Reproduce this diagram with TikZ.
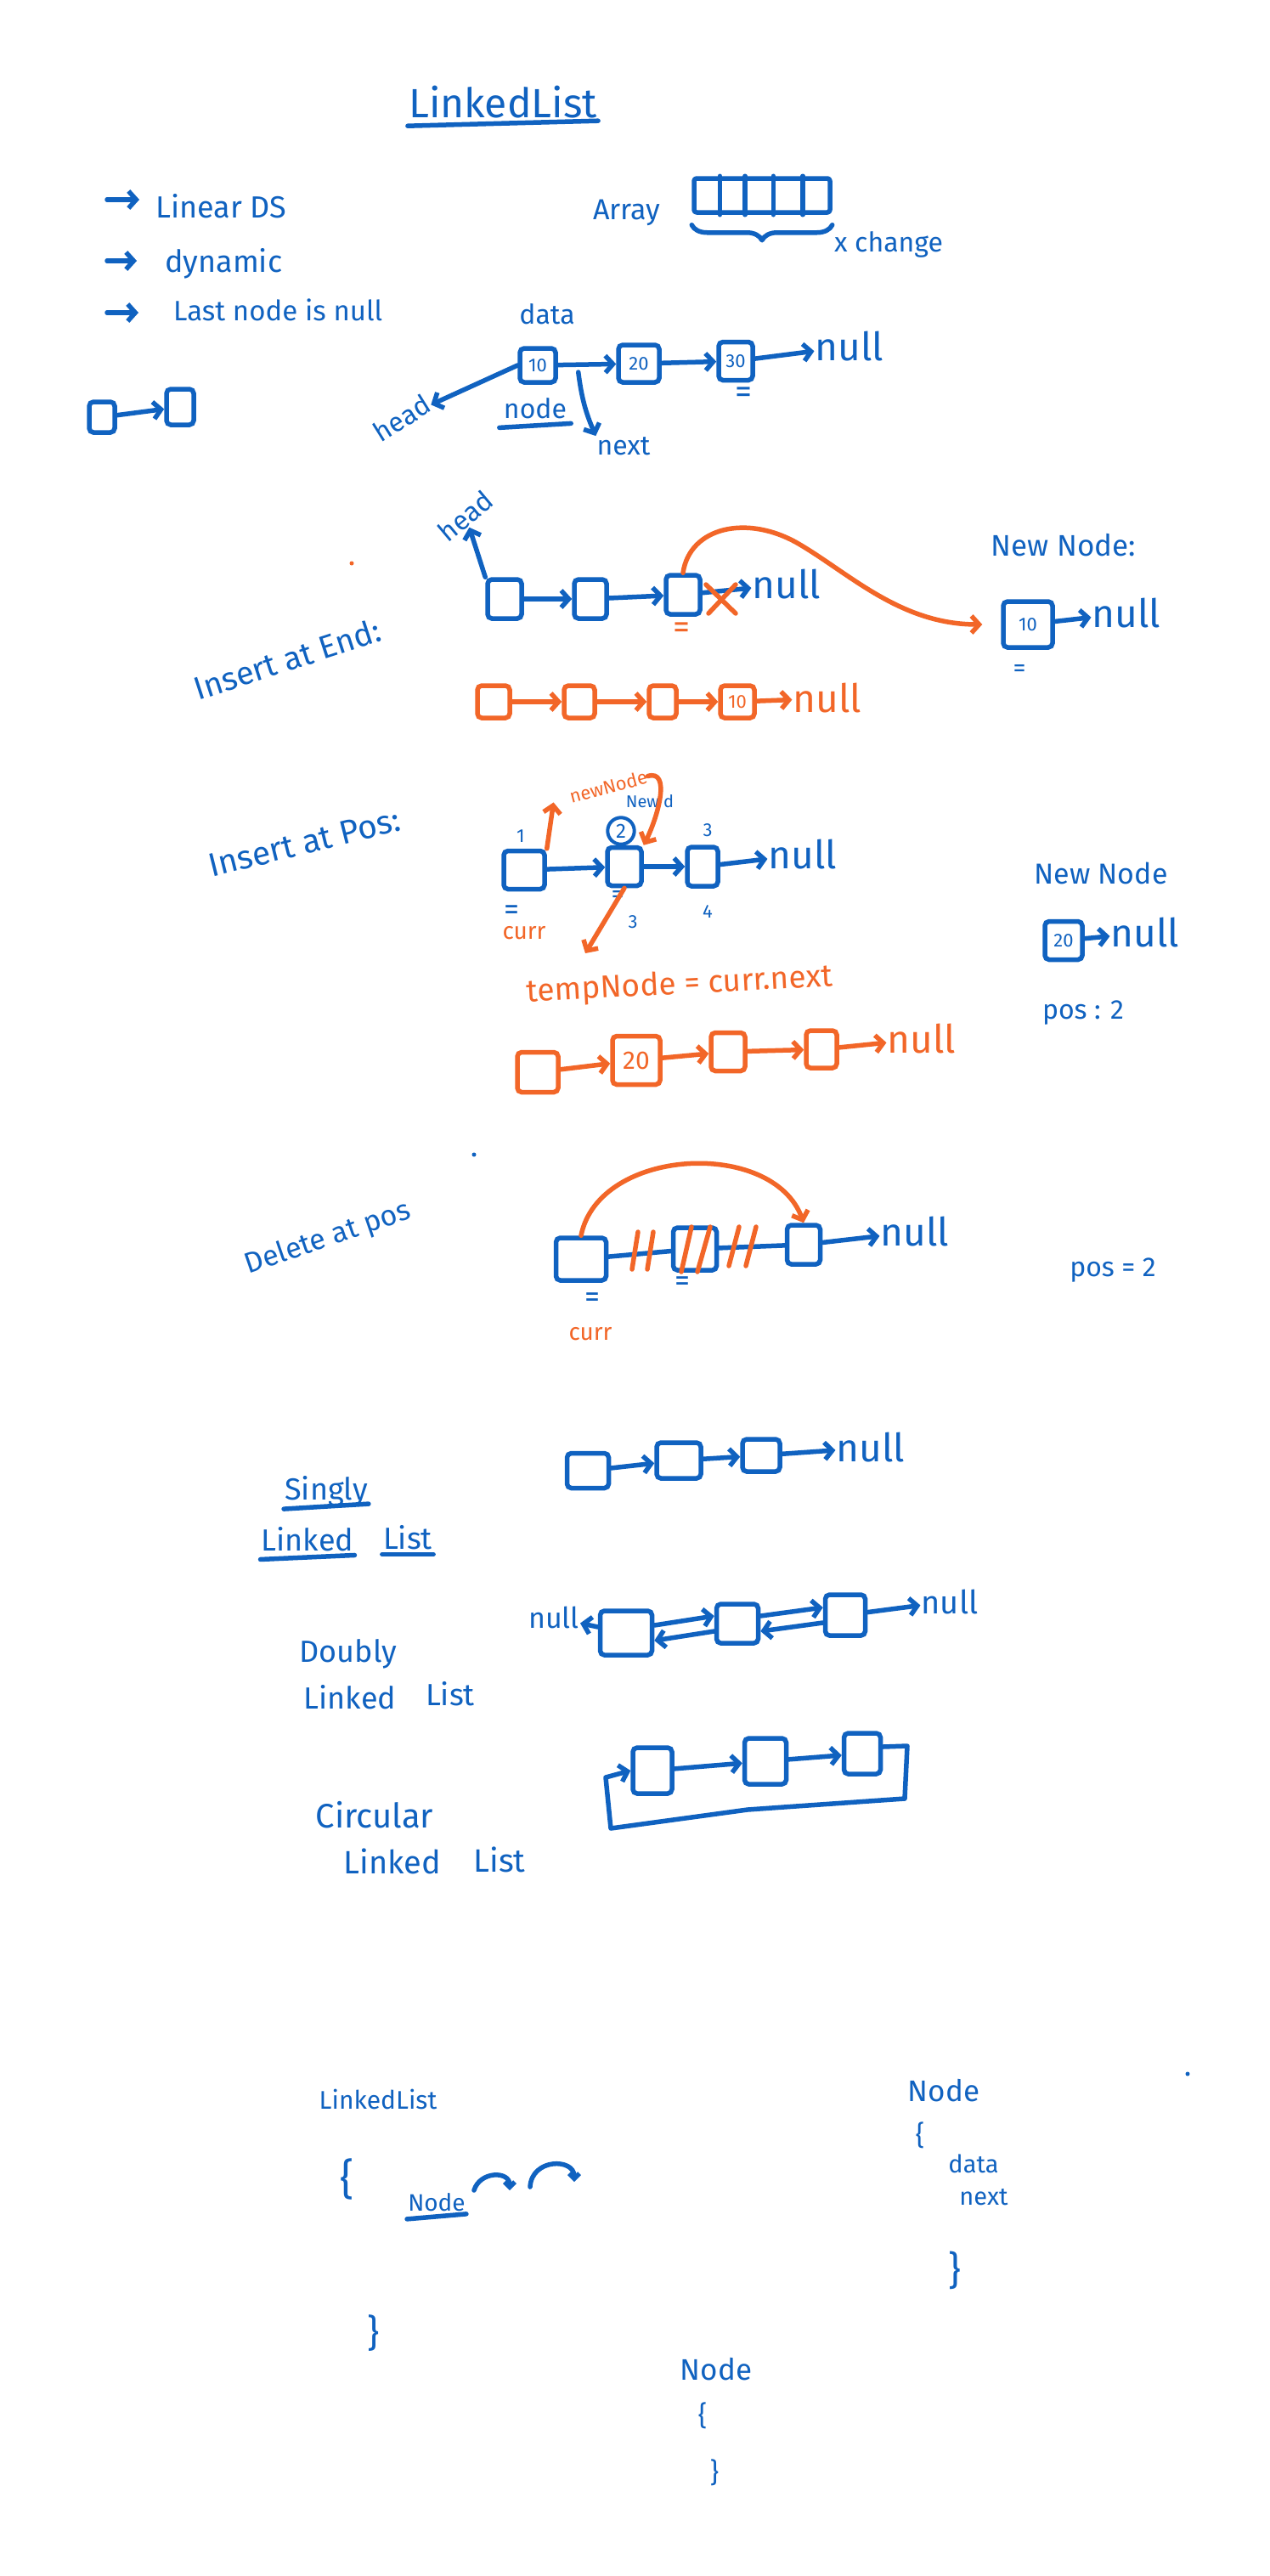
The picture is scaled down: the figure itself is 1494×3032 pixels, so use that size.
\documentclass[tikz,border=0pt]{standalone}
\usepackage{fontspec}
\setmainfont{Fira Sans}
\usetikzlibrary{arrows.meta,decorations.pathreplacing,calc}
\definecolor{hb}{RGB}{16,98,192}
\definecolor{ho}{RGB}{242,102,40}
\newcommand{\fz}[1]{\fontsize{#1}{#1}\selectfont}
\tikzset{
  bl/.style={draw=hb, line width=5.5pt, line cap=round, line join=round},
  ol/.style={draw=ho, line width=5.5pt, line cap=round, line join=round},
  ar/.style={-{Straight Barb[length=9pt,width=20pt]}},
  hbox/.style={line width=5.5pt, rounded corners=5pt, inner sep=0pt, font=\fz{22}},
  bbox/.style={hbox, draw=hb, text=hb},
  obox/.style={hbox, draw=ho, text=ho},
  bt/.style={text=hb, inner sep=1pt, font=\fz{34}},
  ot/.style={text=ho, inner sep=1pt, font=\fz{34}},
  nullt/.style={inner sep=1pt, font=\fz{46}},
}
\begin{document}
\begin{tikzpicture}[x=1pt,y=-1pt]
\fill[white] (0,0) rectangle (1494,3032);
\useasboundingbox (0,0) rectangle (1494,3032);

% ---------- title ----------
\node[bt,font=\fz{48}] (title) at (592,120) {LinkedList};
\draw[bl] ([yshift=-8pt]title.south west) -- ([yshift=-2pt]title.south east);

% ---------- bullets ----------
\node[bt,anchor=base west,font=\fz{36}] (lin) at (182,256) {Linear DS};
\draw[bl,ar] ([xshift=-56pt,yshift=21pt]lin.base west) -- ([xshift=-18pt,yshift=21pt]lin.base west);
\node[bt,anchor=base west,font=\fz{36}] (dyn) at (193,320) {dynamic};
\draw[bl,ar] ([xshift=-67pt,yshift=13pt]dyn.base west) -- ([xshift=-32pt,yshift=13pt]dyn.base west);
\node[bt,anchor=base west,font=\fz{33}] (lnn) at (203,377) {Last node is null};
\draw[bl,ar] ([xshift=-77pt,yshift=9pt]lnn.base west) -- ([xshift=-40pt,yshift=9pt]lnn.base west);

% ---------- array ----------
\node[bt,anchor=base west] (arrlbl) at (697,258) {Array};
\node[bl, minimum width=160pt, minimum height=40pt, rounded corners=3pt] (arrbox) at (897,230) {};
\foreach \f in {0.2,0.38,0.58,0.79}
  \draw[bl] ($(arrbox.north west)!\f!(arrbox.north east)$) -- ($(arrbox.south west)!\f!(arrbox.south east)$);
\draw[bl, decorate, decoration={brace, mirror, amplitude=18pt, raise=12pt}] (arrbox.south west) -- (arrbox.south east);
\node[bt,anchor=base west,font=\fz{32}] (xch) at (981,296) {x change};

% ---------- mini ----------
\node[bbox, minimum width=30pt, minimum height=36pt] (m1) at (120,491) {};
\node[bbox, minimum width=32pt, minimum height=42pt] (m2) at (212,479) {};
\draw[bl,ar] (m1) -- (m2);

% ---------- basic list ----------
\node[bbox, minimum width=42pt, minimum height=40pt] (b10) at (633,430) {10};
\node[bbox, minimum width=48pt, minimum height=44pt] (b20) at (752,428) {20};
\node[bbox, minimum width=40pt, minimum height=45pt] (b30) at (866,425) {30};
\node[bt, nullt] (null1) at (1000,408) {null};
\node[bt, font=\fz{32}] (data1) at (644,370) {data};
\node[bt, font=\fz{32}, rotate=32] (head1) at (473,492) {head};
\node[bt, font=\fz{32}] (node1) at (630,481) {node};
\draw[bl] ([xshift=-4pt,yshift=-9pt]node1.south west) -- ([xshift=4pt,yshift=-4pt]node1.south east);
\node[bt, font=\fz{32}] (next1) at (734,525) {next};
\node[bt, font=\fz{40}] (eq1) at (875,465) {=};
\draw[bl,ar] (b10) -- (b20);
\draw[bl,ar] (b20) -- (b30);
\draw[bl,ar] (b30) -- (null1);
\draw[bl,ar] (b10.west) -- (head1);
\draw[bl,ar] ($(b10.east)+(24,8)$) to[bend right=8] (next1.north west);

% ---------- insert at end ----------
\node[bt, font=\fz{32}, rotate=40] (head2) at (548,607) {head};
\node[bbox, minimum width=40pt, minimum height=46pt] (e1) at (594,705) {};
\node[bbox, minimum width=38pt, minimum height=46pt] (e2) at (695,705) {};
\node[bbox, minimum width=40pt, minimum height=46pt] (e3) at (804,700) {};
\node[bt, nullt] (null2) at (926,688) {null};
\draw[bl,ar] (e1) -- (e2);
\draw[bl,ar] (e2) -- (e3);
\draw[bl,ar] (e3) -- (null2);
\draw[ol] (831,688) -- (866,722) (866,688) -- (834,722);
\draw[bl,ar] (e1.north west) -- (head2);
\node[ot, font=\fz{40}] (eq2) at (802,742) {=};
\node[bt, font=\fz{35}] (nn1) at (1252,642) {New Node:};
\node[bbox, minimum width=58pt, minimum height=54pt] (n10) at (1210,735) {10};
\node[bt, nullt] (null3) at (1326,722) {null};
\draw[bl,ar] (n10) -- (null3);
\node[bt, font=\fz{30}] (eq3) at (1200,790) {=};
\draw[ol,ar] (e3.north) .. controls (812,620) and (880,605) .. (940,640) .. controls (1000,675) and (1060,735) .. ([xshift=-22pt]n10.west);
\node[bt, font=\fz{38}, rotate=18] (iae) at (338,776) {Insert at End:};
\fill[ho] (414,663) circle (2.5);

\node[obox, minimum width=38pt, minimum height=38pt] (o1) at (581,826) {};
\node[obox, minimum width=36pt, minimum height=38pt] (o2) at (682,826) {};
\node[obox, minimum width=32pt, minimum height=38pt] (o3) at (780,826) {};
\node[obox, minimum width=40pt, minimum height=38pt] (o4) at (868,826) {10};
\node[ot, nullt] (null4) at (974,822) {null};
\draw[ol,ar] (o1) -- (o2);
\draw[ol,ar] (o2) -- (o3);
\draw[ol,ar] (o3) -- (o4);
\draw[ol,ar] (o4) -- (null4);

% ---------- insert at pos ----------
\node[bt, font=\fz{39}, rotate=14] (iap) at (358,992) {Insert at Pos:};
\node[bbox, minimum width=48pt, minimum height=45pt] (p1) at (617,1024) {};
\node[bbox, minimum width=40pt, minimum height=45pt] (p2) at (735,1020) {};
\node[bbox, minimum width=36pt, minimum height=46pt] (p3) at (827,1020) {};
\node[bt, nullt] (null5) at (945,1006) {null};
\draw[bl,ar] (p1) -- (p2);
\draw[bl,ar] (p2) -- (p3);
\draw[bl,ar] (p3) -- (null5);
\node[bt, font=\fz{22}] (i1) at (613,984) {1};
\node[draw=hb, line width=4pt, circle, text=hb, font=\fz{24}, inner sep=4pt] (c2n) at (731,978) {2};
\node[bt, font=\fz{22}] (i3) at (833,977) {3};
\node[bt, font=\fz{20}] (nwd) at (765,943) {New d};
\node[ot, font=\fz{22}, rotate=15] (nn2) at (716,926) {newNode};
\draw[ol,ar] (p1.north east) -- ([xshift=-18pt,yshift=-6pt]nn2.west);
\draw[ol,ar] (nn2.east) .. controls (790,905) and (775,960) .. (p2.north east);
\node[bt, font=\fz{30}] (eq4) at (727,1055) {=};
\node[bt, font=\fz{22}] (u3) at (745,1085) {3};
\node[bt, font=\fz{22}] (u4) at (833,1073) {4};
\node[bt, font=\fz{36}] (eq5) at (602,1074) {=};
\node[ot, font=\fz{28}] (curr1) at (617,1098) {curr};
\coordinate (tnArrow) at (689,1122);
\draw[ol,ar] (p2.south) -- (tnArrow);
\node[ot, font=\fz{37}, rotate=3] (tn) at (800,1160) {tempNode = curr.next};
\node[bt, font=\fz{34}] (nn3) at (1296,1028) {New Node};
\node[bbox, minimum width=44pt, minimum height=45pt] (n20) at (1252,1107) {20};
\node[bt, nullt] (null6) at (1348,1098) {null};
\draw[bl,ar] (n20) -- (null6);
\node[bt, font=\fz{32}] (pos1) at (1275,1192) {pos : 2};

\node[obox, minimum width=48pt, minimum height=47pt] (q1) at (633,1262) {};
\node[obox, minimum width=56pt, minimum height=57pt, font=\fz{30}] (q2) at (749,1248) {20};
\node[obox, minimum width=40pt, minimum height=45pt] (q3) at (857,1238) {};
\node[obox, minimum width=36pt, minimum height=44pt] (q4) at (967,1235) {};
\node[ot, nullt] (null7) at (1085,1223) {null};
\draw[ol,ar] (q1) -- (q2);
\draw[ol,ar] (q2) -- (q3);
\draw[ol,ar] (q3) -- (q4);
\draw[ol,ar] (q4) -- (null7);

% ---------- delete at pos ----------
\node[bt, font=\fz{34}, rotate=19] (dap) at (386,1458) {Delete at pos};
\fill[hb] (558,1359) circle (2.5);
\node[bbox, minimum width=59pt, minimum height=50pt] (d1) at (684,1482) {};
\node[bbox, minimum width=51pt, minimum height=50pt] (d2) at (818,1470) {};
\node[bbox, minimum width=39pt, minimum height=46pt] (d3) at (946,1465) {};
\node[bt, nullt] (null8) at (1077,1450) {null};
\draw[bl] (d1) -- (d2);
\draw[bl] (d2) -- (d3);
\draw[bl,ar] (d3) -- (null8);
\draw[ol] (744,1494) -- (751,1450) (762,1494) -- (769,1450)
          (802,1497) -- (814,1444) (821,1497) -- (836,1444)
          (858,1490) -- (870,1444) (878,1490) -- (890,1444);
\draw[ol,ar] (d1.north) .. controls (705,1350) and (910,1340) .. (d3.north);
\node[bt, font=\fz{36}] (eq6) at (697,1530) {=};
\node[bt, font=\fz{36}] (eq7) at (803,1511) {=};
\node[ot, font=\fz{28}] (curr2) at (695,1570) {curr};
\node[bt, font=\fz{32}] (pos2) at (1310,1495) {pos = 2};

% ---------- singly ----------
\node[bbox, minimum width=49pt, minimum height=41pt] (s1) at (692,1731) {};
\node[bbox, minimum width=52pt, minimum height=42pt] (s2) at (799,1719) {};
\node[bbox, minimum width=44pt, minimum height=38pt] (s3) at (896,1713) {};
\node[bt, nullt] (null9) at (1025,1704) {null};
\draw[bl,ar] (s1) -- (s2);
\draw[bl,ar] (s2) -- (s3);
\draw[bl,ar] (s3) -- (null9);
\node[bt, font=\fz{36}] (sing) at (384,1755) {Singly};
\draw[bl] ([yshift=-2pt]sing.south west) -- ([yshift=4pt]sing.south east);
\node[bt, font=\fz{36}] (sl1) at (362,1812) {Linked};
\node[bt, font=\fz{36}] (sl2) at (480,1810) {List};
\draw[bl] ([yshift=-8pt]sl1.south west) -- ([yshift=-3pt]sl1.south east);
\draw[bl] ([yshift=-4pt]sl2.south west) -- ([yshift=-4pt]sl2.south east);

% ---------- doubly ----------
\node[bbox, minimum width=61pt, minimum height=52pt] (db1) at (737,1922) {};
\node[bbox, minimum width=49pt, minimum height=46pt] (db2) at (868,1911) {};
\node[bbox, minimum width=47pt, minimum height=48pt] (db3) at (995,1901) {};
\node[bt, font=\fz{34}] (nullL) at (652,1904) {null};
\node[bt, font=\fz{38}] (nullR) at (1118,1885) {null};
\draw[bl,ar] (db1) -- (nullL);
\draw[bl,ar] ([yshift=9pt]db1.east) -- ([yshift=9pt]db2.west);
\draw[bl,ar] ([yshift=-9pt]db2.west) -- ([yshift=-9pt]db1.east);
\draw[bl,ar] ([yshift=9pt]db2.east) -- ([yshift=9pt]db3.west);
\draw[bl,ar] ([yshift=-9pt]db3.west) -- ([yshift=-9pt]db2.east);
\draw[bl,ar] (db3) -- (nullR);
\node[bt, font=\fz{36}] (dbl) at (410,1947) {Doubly};
\node[bt, font=\fz{36}] (dl1) at (412,1998) {Linked};
\node[bt, font=\fz{36}] (dl2) at (530,1994) {List};

% ---------- circular ----------
\node[bbox, minimum width=46pt, minimum height=54pt] (c1) at (768,2084) {};
\node[bbox, minimum width=49pt, minimum height=54pt] (cc2) at (901,2073) {};
\node[bbox, minimum width=43pt, minimum height=48pt] (c3) at (1015,2064) {};
\draw[bl,ar] (c1) -- (cc2);
\draw[bl,ar] (cc2) -- (c3);
\draw[bl,ar] ([yshift=8pt]c3.east) -- (1068,2055) -- (1065,2117) -- (880,2130) -- (719,2152) -- (713,2092) -- (c1.west);
\node[bt, font=\fz{40}] (circ) at (441,2136) {Circular};
\node[bt, font=\fz{38}] (cl1) at (462,2191) {Linked};
\node[bt, font=\fz{38}] (cl2) at (588,2189) {List};

% ---------- bottom classes ----------
\node[bt, font=\fz{30}] (ll) at (445,2471) {LinkedList};
\node[bt, font=\fz{50}] (ob1) at (409,2565) {\{};
\node[bt, font=\fz{28}] (nd1) at (514,2592) {Node};
\draw[bl] ([yshift=-8pt]nd1.south west) -- ([yshift=-2pt]nd1.south east);
\draw[bl,-{Straight Barb[length=6pt,width=12pt]}] (558,2578) .. controls (565,2555) and (600,2555) .. (600,2578);
\draw[bl,-{Straight Barb[length=6pt,width=12pt]}] (624,2574) .. controls (626,2540) and (676,2540) .. (676,2568);
\node[bt, font=\fz{44}] (cb1) at (440,2746) {\}};
\node[bt, font=\fz{35}] (nd2) at (1111,2461) {Node};
\node[bt, font=\fz{32}] (ob2) at (1083,2513) {\{};
\node[bt, font=\fz{29}] (dat2) at (1146,2547) {data};
\node[bt, font=\fz{29}] (nxt2) at (1158,2586) {next};
\node[bt, font=\fz{46}] (cb2) at (1124,2672) {\}};
\node[bt, font=\fz{35}] (nd3) at (843,2789) {Node};
\node[bt, font=\fz{32}] (ob3) at (827,2843) {\{};
\node[bt, font=\fz{32}] (cb3) at (841,2910) {\}};
\fill[hb] (1398,2441) circle (2.5);
\end{tikzpicture}
\end{document}
